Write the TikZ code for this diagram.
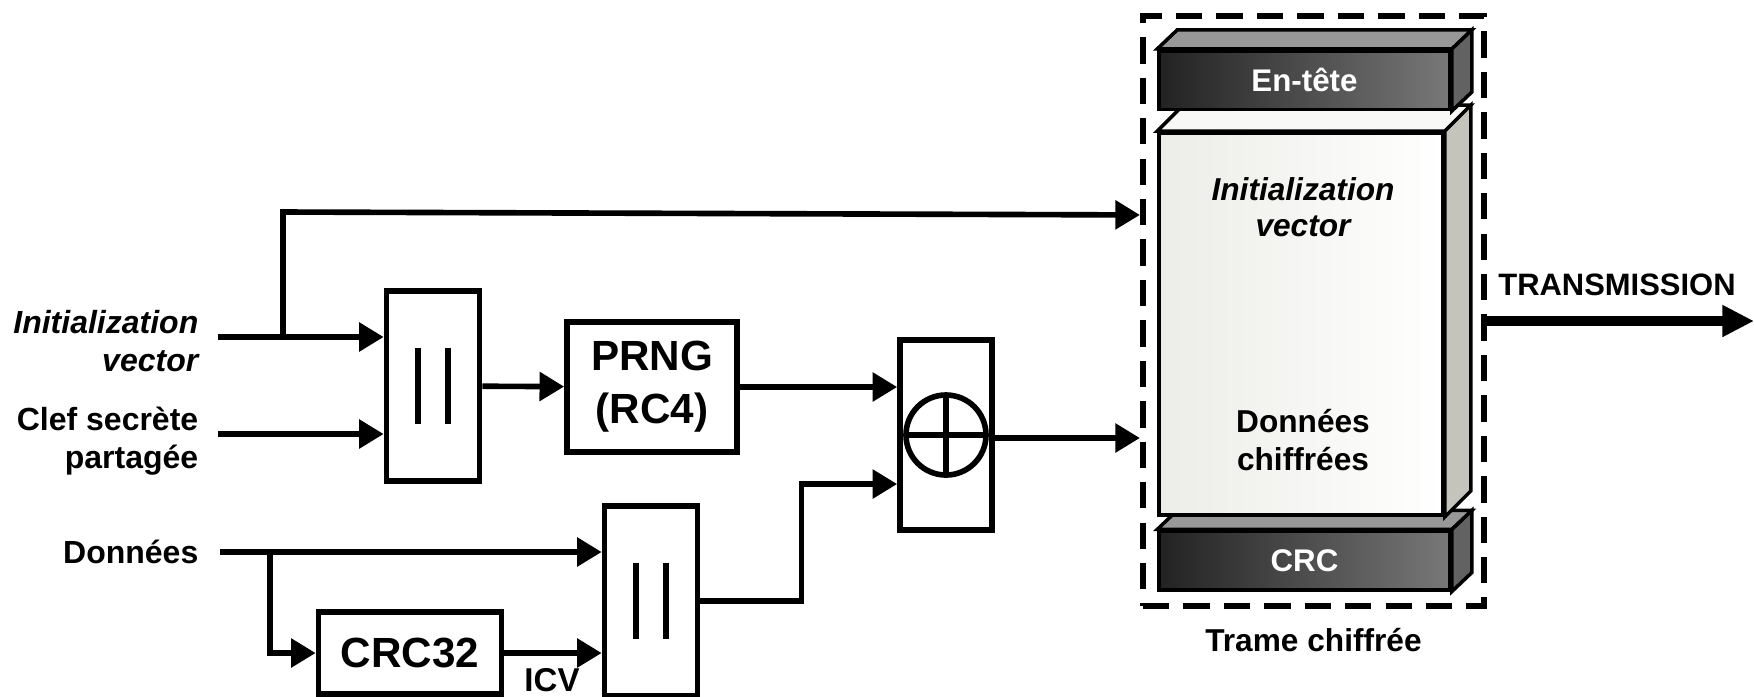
\documentclass[tikz,border=0pt]{standalone}
\usepackage{fontspec}
\setmainfont{Liberation Sans}
\usepackage{tikz}
\usetikzlibrary{arrows.meta,positioning,calc}
\definecolor{colDark}{RGB}{34,34,34}
\definecolor{colMid}{RGB}{120,120,120}
\definecolor{colTop}{RGB}{152,152,152}
\definecolor{colSide}{RGB}{98,98,98}
\definecolor{colPane}{RGB}{236,236,232}
\definecolor{colPaneTop}{RGB}{248,248,246}
\definecolor{colPaneSide}{RGB}{196,196,188}
\tikzset{
  box/.style      = {rectangle, draw=black, line width=1.6pt, fill=white,
                     inner sep=0pt, align=center,
                     font=\fontsize{12}{15}\selectfont\bfseries},
  catbox/.style   = {box, minimum width=0.93cm, minimum height=1.9cm},
  xorbox/.style   = {box, minimum width=0.92cm, minimum height=1.9cm},
  inlbl/.style    = {anchor=east, inner sep=0pt, align=right,
                     font=\fontsize{9.1}{10.8}\selectfont\bfseries},
  txt/.style      = {inner sep=0pt, align=center,
                     font=\fontsize{9}{10.8}\selectfont\bfseries},
  slab/.style     = {rectangle, draw=black, line width=1pt, inner sep=0pt,
                     minimum width=2.91cm, minimum height=0.585cm,
                     left color=colDark, right color=colMid, text=white,
                     font=\fontsize{8.9}{10}\selectfont\bfseries},
  pane/.style     = {rectangle, draw=black, line width=1pt, inner sep=0pt,
                     minimum width=2.84cm, minimum height=3.82cm,
                     left color=colPane, right color=white},
  frame/.style    = {rectangle, draw=black, line width=1.7pt,
                     dash pattern=on 7.5pt off 4pt,
                     minimum width=3.41cm, minimum height=5.9cm},
  arr/.style      = {-{Triangle[length=7pt,width=8pt]}, line width=1.6pt},
  bigarr/.style   = {-{Triangle[length=9pt,width=8.5pt]}, line width=2.8pt},
  wire/.style     = {line width=1.6pt},
  bar/.style      = {line width=1.7pt},
}

\begin{document}
\begin{tikzpicture}[x=0.01cm, y=-0.01cm]
\useasboundingbox (0,0) rectangle (1754,696);

%% Inputs
\node[inlbl, font=\fontsize{9.1}{10.8}\selectfont\bfseries\itshape]
  (ivlbl)   at (199,341) {Initialization\\vector};
\node[inlbl] (keylbl)  at (199,441) {Clef secrète\\partagée};
\node[inlbl] (datalbl) at (199,552) {Données};
\coordinate (ivin)    at (218,337);
\coordinate (ivtap)   at (283,337);
\coordinate (ivtop)   at (283,212);
\coordinate (keyin)   at (218,434);
\coordinate (datain)  at (220,552);
\coordinate (datatap) at (270,552);

%% Processing blocks
\node[catbox] (cat1)  at (433,386) {};
\node[box, minimum width=1.7cm, minimum height=1.3cm]
  (prng)  at (652,387) {PRNG\\(RC4)};
\node[xorbox] (xor)   at (946,435) {};
\node[box, minimum width=1.83cm, minimum height=0.82cm]
  (crc32) at (410,653) {CRC32};
\node[catbox] (cat2)  at (651,601) {};
\node[txt, font=\fontsize{9.4}{11}\selectfont\bfseries]
  (icv)   at (552,680) {ICV};

\foreach \c in {cat1,cat2}
  \foreach \dx in {-0.15,0.15}
    \draw[bar] ([xshift=\dx cm,yshift=0.38cm]\c.center)
            -- ([xshift=\dx cm,yshift=-0.38cm]\c.center);
\draw[wire] (xor.center) circle[radius=0.4cm];
\draw[wire] ([yshift=0.4cm]xor.center) -- ([yshift=-0.4cm]xor.center);
\draw[wire] ([xshift=-0.4cm]xor.center) -- ([xshift=0.4cm]xor.center);

%% Encrypted frame
\node[frame] (trame) at (1313.5,311) {};
\node[txt, below=0.18cm of trame] (tramelbl) {Trame chiffrée};

\node[slab] (crc) at (1304.5,560.5) {CRC};
\filldraw[fill=colTop, line width=1pt] (crc.north west) -- ++(20,-19)
  -- ($(crc.north east)+(20,-19)$) -- (crc.north east) -- cycle;
\filldraw[fill=colSide, line width=1pt] (crc.north east) -- ++(20,-19)
  -- ($(crc.south east)+(20,-19)$) -- (crc.south east) -- cycle;

\node[pane] (pane) at (1301,324) {};
\filldraw[fill=colPaneTop, line width=1pt] (pane.north west) -- ++(26,-26)
  -- ($(pane.north east)+(26,-26)$) -- (pane.north east) -- cycle;
\filldraw[fill=colPaneSide, line width=1pt] (pane.north east) -- ++(26,-26)
  -- ($(pane.south east)+(26,-26)$) -- (pane.south east) -- cycle;
\node[txt, font=\fontsize{9}{10.2}\selectfont\bfseries\itshape]
  (paneiv)   at (1303,207) {Initialization\\vector};
\node[txt] (panedata) at (1303,440) {Données\\chiffrées};

\node[slab] (head) at (1304.5,80) {En-tête};
\filldraw[fill=colTop, line width=1pt] (head.north west) -- ++(20,-19)
  -- ($(head.north east)+(20,-19)$) -- (head.north east) -- cycle;
\filldraw[fill=colSide, line width=1pt] (head.north east) -- ++(20,-19)
  -- ($(head.south east)+(20,-19)$) -- (head.south east) -- cycle;

%% Output
\coordinate (txend) at (1754,321);
\node[txt, font=\fontsize{8.8}{10}\selectfont\bfseries]
  (txlbl) at (1617,285) {TRANSMISSION};

%% Arrows
\draw[arr]  (ivin)  -- (ivin -| cat1.west);
\draw[arr]  (ivtap) -- (ivtop) -- ([yshift=0.96cm]trame.west);
\draw[arr]  (keyin) -- (keyin -| cat1.west);
\draw[arr]  (cat1)  -- (prng);
\draw[arr]  (prng.east) -- (prng.east -| xor.west);
\draw[arr]  (datain) -- (datain -| cat2.west);
\draw[arr]  (datatap) |- (crc32.west);
\draw[arr]  (crc32.east) -- (crc32.east -| cat2.west);
\draw[arr]  (cat2.east) -- ++(101,0) |- ([yshift=-0.49cm]xor.west);
\draw[arr]  ([yshift=-0.03cm]xor.east) -- ([yshift=-0.03cm]xor.east -| trame.west);
\draw[bigarr] (trame.east |- txend) -- (txend);

\end{tikzpicture}
\end{document}
